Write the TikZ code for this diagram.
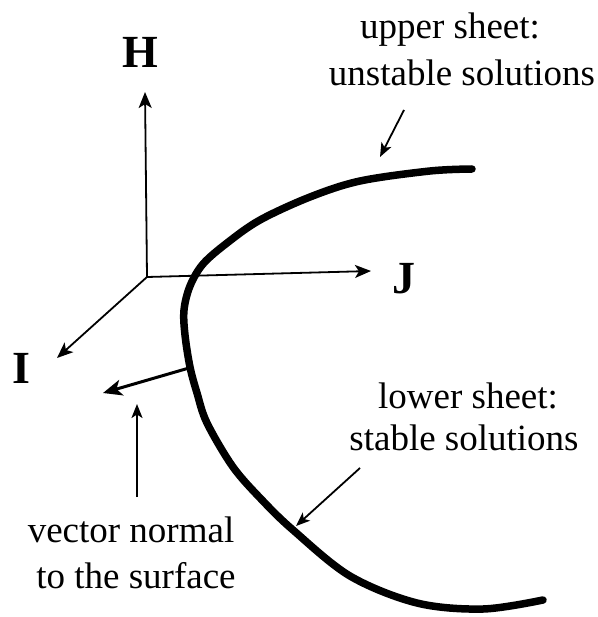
\documentclass[tikz,border=0pt]{standalone}
\usepackage{fontspec}
\setmainfont{Liberation Serif}
\usetikzlibrary{arrows.meta}
\begin{document}
\begin{tikzpicture}[x=1pt,y=-1pt,
  axis/.style={line width=1.8pt,-{Stealth[length=16pt,width=13pt,inset=4pt]}},
  pointer/.style={line width=1.8pt,-{Stealth[length=14pt,width=11pt,inset=3.5pt]}},
  normalvec/.style={line width=3pt,-{Stealth[length=19pt,width=16pt,inset=5pt]}},
  sheet/.style={line width=7.5pt,line cap=round},
  axlabel/.style={font=\fontsize{46}{50}\selectfont\bfseries,inner sep=0pt,anchor=base},
  txt/.style={font=\fontsize{37}{46}\selectfont,inner sep=0pt,anchor=base}]
\useasboundingbox (0,0) rectangle (597,617);
% axes
\coordinate (O) at (147,277);
\coordinate (Htip) at (145,92);
\coordinate (Jtip) at (371,271);
\coordinate (Itip) at (57,358);
\draw[axis] (O) -- (Htip);
\draw[axis] (O) -- (Jtip);
\draw[axis] (O) -- (Itip);
\node[axlabel] (H) at (140,68) {H};
\node[axlabel] (J) at (404,293) {J};
\node[axlabel] (I) at (21,383) {I};
% surface section
\draw[sheet] plot[smooth,tension=0.55] coordinates {(472,169) (430,171) (360,181) (310,197) (260,220) (227,243) (203,264) (190,286) (184,310) (185,335) (190,367) (197,393) (207,423) (233,467) (262,500) (293,530) (350,576) (417,603) (483,609) (543,600)};
% normal vector
\coordinate (Nfoot) at (189,368);
\coordinate (Ntip) at (103,393);
\draw[normalvec] (Nfoot) -- (Ntip);
% labels
\node[txt] (up1) at (450,39) {upper sheet:};
\node[txt] (up2) at (462,86) {unstable solutions};
\node[txt] (lo1) at (468,408) {lower sheet:};
\node[txt] (lo2) at (464,450) {stable solutions};
\node[txt] (ve1) at (131,542) {vector normal};
\node[txt] (ve2) at (136,588) {to the surface};
\coordinate (upS) at (404,110);
\coordinate (upE) at (380,157);
\draw[pointer] (upS) -- (upE);
\coordinate (loS) at (360,468);
\coordinate (loE) at (296,526);
\draw[pointer] (loS) -- (loE);
\coordinate (veS) at (137,497);
\coordinate (veE) at (137,404);
\draw[pointer] (veS) -- (veE);
\end{tikzpicture}
\end{document}
